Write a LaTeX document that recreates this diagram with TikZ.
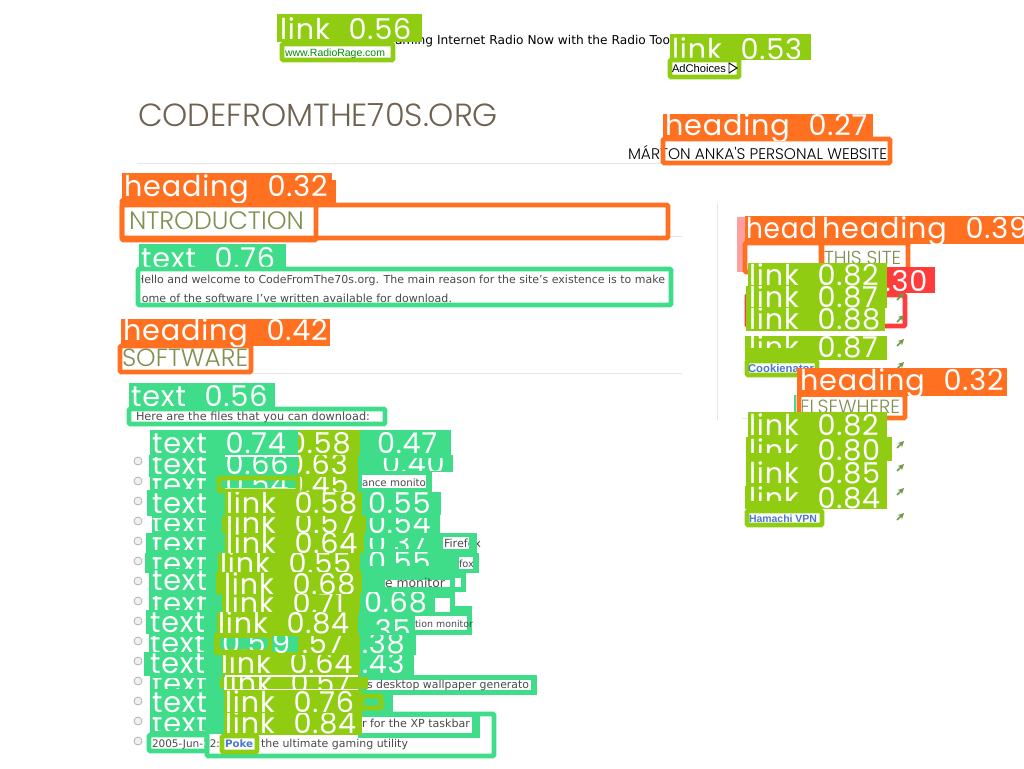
\documentclass[tikz,border=0pt]{standalone}
\usepackage{fontspec}
\usepackage{graphicx}
\usetikzlibrary{arrows.meta}
\setmainfont{DejaVu Sans}
\newfontfamily\labf[UprightFont=* Light]{Poppins}
\newfontfamily\lbf[LetterSpace=3,WordSpace=2.2]{Poppins}
\newfontfamily\arialf{Liberation Sans}
\definecolor{cOl}{HTML}{90CC12}
\definecolor{cGr}{HTML}{3FDD8A}
\definecolor{cOr}{HTML}{FF7020}
\definecolor{cRd}{HTML}{FF3B3B}
\definecolor{cPk}{HTML}{FFA0A0}
\definecolor{cHd}{HTML}{7F9050}
\definecolor{cTi}{HTML}{6F6251}
\definecolor{cTx}{HTML}{4A4A4A}
\definecolor{cLk}{HTML}{4A78D0}
\definecolor{cAr}{HTML}{6E9A4A}
\definecolor{cRule}{HTML}{E6E6E6}
\tikzset{
  rulel/.style={draw=cRule,line width=0.6pt},
  ar/.style={draw=cAr,line width=1.3pt,-{Stealth[length=4.5pt,width=4.5pt]}},
  bul/.style={circle,draw=black!30,fill=black!6,line width=0.6pt,minimum size=6pt,inner sep=0pt},
  tb/.style={anchor=base west,inner sep=0pt,outer sep=0pt},
  hb/.style={line width=3.6pt,rounded corners=1pt}
}
\newcommand\fitt[6]{\node[tb,text=#4] at (#1,#2) {\resizebox{\dimexpr#3pt*3/4\relax}{!}{#5#6}};}
% label: x0 y0 x1 y1 colour textx base text
\newcommand\lb[8]{\fill[#5] (#1,#2) rectangle (#3,#4);
  \begin{scope}\clip (#1,#2) rectangle (#3,#4);
  \node[tb,text=white,font=\lbf\fontsize{21.5pt}{24pt}\selectfont] at (#6,#7) {#8};\end{scope}}
\newcommand\bx[5]{\fill[#5] (#1,#2) rectangle (#3,#4);}
\newcommand\wh[4]{\fill[white] (#1,#2) rectangle (#3,#4);}
\newcommand\frm[5]{\draw[hb,draw=#5] (#1,#2) rectangle (#3,#4);}
\begin{document}
\begin{tikzpicture}[x=0.75pt,y=-0.75pt]
\useasboundingbox (0,0) rectangle (1024,768);
\fill[white] (0,0) rectangle (1024,768);
% page
\draw[rulel] (137,163) -- (890,163);
\draw[rulel] (137,236) -- (682,236);
\draw[rulel] (137,373) -- (682,373);
\draw[rulel] (717,203) -- (717,420);
\draw[rulel] (742,418) -- (750,418);
\fitt{395}{44}{275}{black}{\fontsize{10pt}{12pt}\selectfont}{aming Internet Radio Now with the Radio Too}
\fitt{138}{126}{360}{cTi}{\labf\fontsize{22pt}{24pt}\selectfont}{CODEFROMTHE70S.ORG}
\fitt{628}{159}{259}{black}{\labf\fontsize{11pt}{12pt}\selectfont}{MÁRTON ANKA'S PERSONAL WEBSITE}
\foreach \yy in {461,481,...,741} \node[bul] (b\yy) at (138,\yy) {};
% top links
\lb{277}{14}{422}{42}{cOl}{280}{39}{link 0.56}
\frm{282}{44}{393}{60}{cOl}
\fitt{285}{56}{100}{green!55!black}{\arialf\fontsize{8pt}{10pt}\selectfont}{www.RadioRage.com}
\lb{670}{34}{811}{60}{cOl}{672}{59}{link 0.53}
\frm{670}{60}{739}{77}{cOl}
\fitt{672}{72}{54}{black}{\arialf\fontsize{8pt}{10pt}\selectfont}{AdChoices}
\draw[black,line width=0.7pt,fill=white] (729,63) -- (729,73) -- (737,68) -- cycle;
% heading 0.27
\frm{663}{139}{890}{163}{cOr}
\lb{663}{114}{873}{140}{cOr}{665}{135}{heading 0.27}
% intro
\bx{122}{180}{336}{205}{cOr}
\frm{122}{205}{668}{238}{cOr}
\frm{122}{200}{316}{240}{cOr}
\lb{122}{173}{332}{202}{cOr}{124}{196}{heading 0.32}
\wh{129}{208}{312}{235}
\fitt{129}{229}{175}{cHd}{\labf\fontsize{14pt}{16pt}\selectfont}{NTRODUCTION}
% text 0.76
\lb{139}{244}{286}{270}{cGr}{141}{268}{text 0.76}
\frm{138}{269}{671}{305}{cGr}
\begin{scope}\clip (141,272) rectangle (668,302);
\fitt{136}{283}{529}{cTx}{\fontsize{8pt}{10pt}\selectfont}{Hello and welcome to CodeFromThe70s.org. The main reason for the site's existence is to make}
\fitt{136}{302}{316}{cTx}{\fontsize{8pt}{10pt}\selectfont}{some of the software I've written available for download.}
\end{scope}
% software
\frm{120}{346}{251}{372}{cOr}
\lb{121}{319}{330}{346}{cOr}{123}{340}{heading 0.42}
\fitt{122}{366}{126}{cHd}{\labf\fontsize{14pt}{16pt}\selectfont}{SOFTWARE}
\lb{129}{383}{275}{409}{cGr}{131}{406}{text 0.56}
\frm{129}{409}{385}{424}{cGr}
\fitt{136}{420}{234}{cTx}{\fontsize{8pt}{10pt}\selectfont}{Here are the files that you can download:}
% list: right side
\bx{358}{430}{451}{455}{cGr}
\bx{358}{455}{453}{472}{cGr}
\bx{358}{472}{432}{492}{cGr}
\bx{358}{492}{441}{515}{cGr}
\bx{358}{515}{440}{535}{cGr}
\bx{358}{533}{477}{555}{cGr}
\bx{358}{553}{479}{573}{cGr}
\bx{358}{573}{466}{592}{cGr}
\bx{358}{592}{455}{612}{cGr}
\bx{358}{606}{472}{635}{cGr}
\bx{358}{635}{416}{655}{cGr}
\bx{358}{655}{414}{675}{cGr}
\bx{358}{675}{537}{695}{cGr}
\bx{358}{695}{393}{712}{cGr}
\bx{358}{712}{480}{738}{cGr}
\lb{358}{430}{451}{455}{cGr}{377}{453}{0.47}
\lb{358}{458}{453}{470}{cGr}{382}{473}{0.40}
\wh{362}{475}{426}{488}
\fitt{362}{486}{64}{cTx}{\fontsize{8pt}{10pt}\selectfont}{ance monito}
\lb{358}{492}{441}{515}{cGr}{368}{513}{0.55}
\lb{358}{518}{440}{532}{cGr}{368}{533}{0.54}
\lb{358}{538}{443}{548}{cGr}{368}{553}{0.37}
\wh{443}{537}{469}{549}
\fitt{444}{547}{37}{cTx}{\fontsize{8pt}{10pt}\selectfont}{Firefox}
\bx{469}{533}{477}{555}{cGr}
\lb{358}{552}{458}{565}{cGr}{368}{572}{0.55}
\wh{459}{557}{473}{569}
\fitt{459}{567}{15}{cTx}{\fontsize{8pt}{10pt}\selectfont}{fox}
\wh{385}{580}{450}{587}
\fitt{385}{587}{60}{cTx}{\fontsize{8pt}{10pt}\selectfont}{e monitor}
\wh{455}{578}{461}{587}
\lb{358}{592}{437}{612}{cGr}{364}{612}{0.68}
\wh{435}{598}{450}{612}
\wh{415}{616}{467}{630}
\fitt{415}{627}{58}{cTx}{\fontsize{8pt}{10pt}\selectfont}{tion monitor}
\lb{358}{618}{415}{632}{cGr}{368}{640}{.35}
\lb{358}{635}{416}{655}{cGr}{362}{653}{.38}
\lb{358}{655}{414}{675}{cGr}{362}{673}{.43}
\wh{367}{680}{531}{690}
\fitt{367}{688}{162}{cTx}{\fontsize{8pt}{10pt}\selectfont}{s desktop wallpaper generato}
\wh{362}{717}{472}{733}
\fitt{362}{727}{108}{cTx}{\fontsize{8pt}{10pt}\selectfont}{r for the XP taskbar}
\fitt{152}{747}{68}{cTx}{\fontsize{8pt}{10pt}\selectfont}{2005-Jun-12:}
\fitt{261}{747}{147}{cTx}{\fontsize{8pt}{10pt}\selectfont}{the ultimate gaming utility}
\fitt{225}{747}{28}{cLk}{\fontsize{8pt}{10pt}\selectfont\bfseries}{Poke}
\frm{207}{714}{494}{756}{cGr}
\frm{149}{735}{207}{751}{cGr}
\frm{222}{736}{257}{752}{cOl}
% list: left text labels
\bx{150}{430}{225}{455}{cGr}
\lb{150}{430}{298}{455}{cGr}{152}{453}{text 0.74}
\bx{149}{455}{225}{477}{cGr}
\lb{149}{457}{298}{476}{cGr}{152}{474}{text 0.66}
\bx{150}{476}{225}{492}{cGr}
\lb{150}{478}{298}{488}{cGr}{152}{494}{text 0.54}
\bx{147}{490}{225}{516}{cGr}
\lb{147}{490}{225}{515}{cGr}{152}{513}{text}
\bx{152}{515}{225}{535}{cGr}
\lb{152}{518}{225}{530}{cGr}{152}{533}{text}
\bx{146}{533}{225}{555}{cGr}
\lb{146}{537}{225}{549}{cGr}{152}{553}{text}
\bx{145}{553}{225}{573}{cGr}
\lb{145}{557}{225}{568}{cGr}{152}{573}{text}
\bx{149}{572}{225}{593}{cGr}
\lb{149}{570}{225}{593}{cGr}{152}{590}{text}
\bx{149}{592}{225}{612}{cGr}
\lb{149}{596}{225}{612}{cGr}{152}{613}{text}
\bx{146}{610}{225}{634}{cGr}
\lb{146}{610}{225}{634}{cGr}{150}{632}{text}
\bx{149}{633}{225}{653}{cGr}
\lb{149}{636}{225}{652}{cGr}{150}{653}{text}
\bx{144}{652}{225}{676}{cGr}
\lb{144}{652}{225}{676}{cGr}{150}{673}{text}
\bx{150}{675}{225}{690}{cGr}
\lb{150}{678}{225}{688}{cGr}{152}{693}{text}
\bx{150}{690}{225}{714}{cGr}
\lb{150}{690}{225}{714}{cGr}{152}{712}{text}
\bx{150}{714}{225}{734}{cGr}
\lb{150}{717}{225}{730}{cGr}{152}{733}{text}
% list: olive link labels
\lb{298}{430}{360}{455}{cOl}{288}{453}{0.58}
\lb{298}{455}{358}{477}{cOl}{286}{474}{0.63}
\lb{298}{477}{358}{492}{cOl}{286}{494}{0.45}
\frm{219}{478}{298}{491}{cOl}
\lb{225}{492}{362}{516}{cOl}{226}{513}{link 0.58}
\lb{222}{516}{366}{533}{cOl}{226}{533}{link 0.57}
\lb{225}{533}{364}{553}{cOl}{226}{553}{link 0.64}
\lb{218}{553}{360}{572}{cOl}{220}{573}{link 0.55}
\lb{216}{572}{362}{594}{cOl}{224}{594}{link 0.68}
\lb{222}{594}{360}{612}{cOl}{224}{613}{link 0.71}
\lb{217}{612}{358}{634}{cOl}{218}{633}{link 0.84}
\bx{214}{634}{360}{655}{cOl}
\lb{220}{638}{268}{649}{cGr}{222}{653}{0.5}
\lb{272}{636}{298}{652}{cGr}{272}{653}{9}
\lb{298}{636}{358}{652}{cOl}{302}{653}{.57}
\lb{222}{655}{360}{675}{cOl}{221}{673}{link 0.64}
\lb{220}{677}{368}{689}{cOl}{222}{693}{link 0.57}
\lb{224}{690}{362}{713}{cOl}{225}{712}{link 0.76}
\frm{362}{696}{381}{708}{cOl}
\lb{224}{713}{362}{735}{cOl}{225}{733}{link 0.84}
% sidebar
\draw[ar] (897,346) -- (904,339);
\draw[ar] (897,369) -- (904,362);
\foreach \yy in {448,471,495,520} \draw[ar] (897,\yy) -- (904,\yy-7);
\bx{737}{217}{745}{272}{cPk}
\frm{745}{243}{822}{272}{cOr}
\frm{821}{243}{908}{270}{cOr}
\lb{745}{216}{820}{244}{cOr}{746}{238}{\scalebox{.92}[1]{head}}
\lb{820}{216}{1024}{244}{cOr}{822}{238}{heading 0.39}
\wh{825}{247}{900}{265}
\fitt{824}{264}{77}{cHd}{\labf\fontsize{11pt}{13pt}\selectfont}{THIS SITE}
\lb{887}{267}{935}{293}{cRd}{866}{291}{0.30}
\frm{747}{295}{905}{326}{cRd}
\draw[ar] (897,300) -- (904,293);
\draw[ar] (897,322) -- (904,315);
\lb{748}{263}{887}{286}{cOl}{749}{285}{link 0.82}
\lb{746}{286}{887}{308}{cOl}{749}{307}{link 0.87}
\lb{746}{308}{885}{331}{cOl}{749}{329}{link 0.88}
\lb{745}{336}{887}{360}{cOl}{749}{357}{link 0.87}
\bx{745}{348}{800}{360}{cOl}
\frm{747}{361}{817}{375}{cOl}
\fitt{748}{372}{66}{cLk}{\arialf\bfseries\fontsize{8pt}{10pt}\selectfont}{Cookienator}
\draw[cGr,line width=1pt] (795,395) -- (795,414);
\frm{799}{395}{905}{418}{cOr}
\lb{797}{368}{1007}{396}{cOr}{800}{390}{heading 0.32}
\wh{802}{397}{902}{414}
\begin{scope}\clip (802,397) rectangle (902,414);
\fitt{800}{413}{100}{cHd}{\labf\fontsize{11pt}{13pt}\selectfont}{ELSEWHERE}
\end{scope}
\lb{748}{412}{887}{437}{cOl}{749}{435}{link 0.82}
\lb{746}{437}{892}{461}{cOl}{749}{460}{link 0.80}
\bx{746}{453}{800}{461}{cOl}
\lb{746}{461}{887}{486}{cOl}{749}{483}{link 0.85}
\lb{745}{486}{887}{509}{cOl}{749}{508}{link 0.84}
\bx{745}{501}{800}{509}{cOl}
\frm{747}{511}{822}{525}{cOl}
\fitt{749}{522}{68}{cLk}{\arialf\bfseries\fontsize{8pt}{10pt}\selectfont}{Hamachi VPN}
\end{tikzpicture}
\end{document}
